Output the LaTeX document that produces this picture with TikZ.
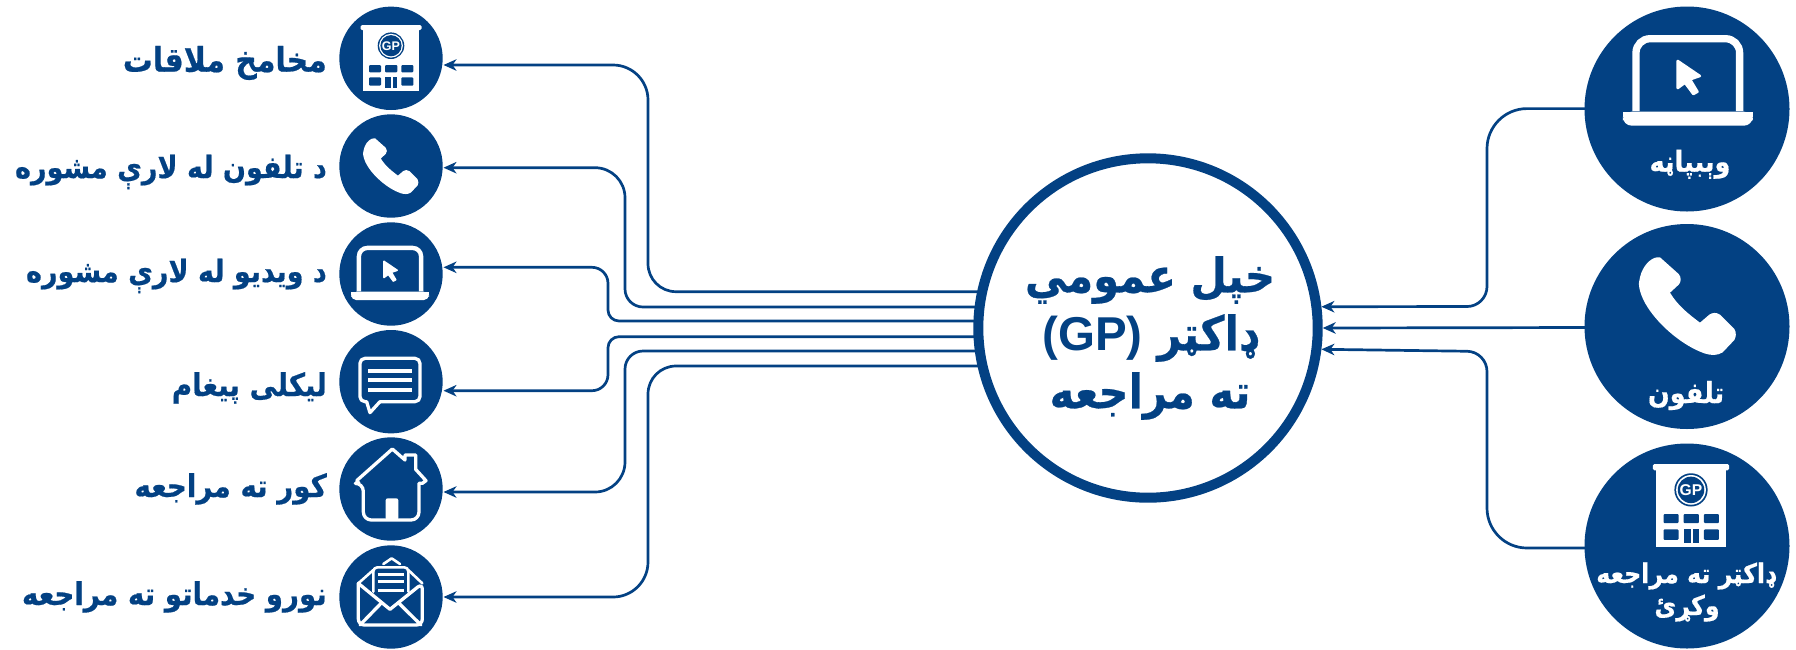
\documentclass[tikz,border=0pt]{standalone}
\usepackage{fontspec}
\usetikzlibrary{arrows.meta,calc}
\TeXXeTstate=1
\newfontfamily\arb[Script=Arabic,FakeStretch=0.88,FakeBold=0.5]{DejaVu Sans Bold}
\newfontfamily\latn{Liberation Sans Bold}
\newcommand{\rl}[1]{\beginR #1\endR}
\definecolor{navy}{HTML}{034183}
\tikzset{
  disc/.style={circle,fill=navy,draw=none,inner sep=0pt,outer sep=0pt},
  smalldisc/.style={disc,minimum size=103.4pt},
  bigdisc/.style={disc,minimum size=205pt},
  conn/.style={draw=navy,line width=2.7pt},
  arrowed/.style={conn,-{Stealth[length=13pt,width=11.5pt,inset=4pt]}},
  sidelabel/.style={anchor=base east,text=navy,inner sep=0pt,font=\arb\fontsize{31.5}{31.5}\selectfont},
  disclabel/.style={anchor=base,text=white,inner sep=0pt,font=\arb\fontsize{27}{27}\selectfont},
  iconline/.style={draw=white,line width=3.3pt,line join=round,line cap=round},
}
\newcommand{\buildingicon}[3]{%
  \begin{scope}[shift={(#1,#2)},scale=#3,transform shape]
    \fill[white,rounded corners=1.5pt] (-30.5,0) rectangle (30.5,5);
    \fill[white] (-28,4) rectangle (28,66);
    \fill[navy] (0,20.7) circle[radius=13.3];
    \fill[white] (0,20.7) circle[radius=11.9];
    \fill[navy] (0,20.7) circle[radius=10.6];
    \node[text=white,inner sep=0pt,font=\latn\fontsize{12.5}{12.5}\selectfont] at (0,20.7) {GP};
    \foreach \xa/\xb in {-22/-10,-6/6.3,10.3/22.3}
      \fill[navy,rounded corners=1pt] (\xa,40) rectangle (\xb,47.3);
    \fill[navy,rounded corners=1pt] (-22,52.3) rectangle (-10,60.7);
    \fill[navy,rounded corners=1pt] (10.3,52.3) rectangle (22.3,60.7);
    \fill[navy] (-6,52.3) rectangle (-0.3,63);
    \fill[navy] (1.7,52.3) rectangle (6.3,63);
  \end{scope}}
\newcommand{\laptopicon}[3]{%
  \begin{scope}[shift={(#1,#2)},scale=#3]
    \draw[white,line width=7.3pt*#3,rounded corners=14pt*#3] (-51.8,76) -- (-51.8,3.7) -- (51.8,3.7) -- (51.8,76);
    \fill[white,rounded corners=9pt*#3] (-65,76.7) -- (-65,90.7) -- (65,90.7) -- (65,76.7) -- cycle;
    \fill[white] (-65,76.7) rectangle (65,82);
    \draw[white,fill=white,line width=2.6pt*#3,line join=round]
      (-10.1,26) -- (12,41) -- (2.2,44.3) -- (9.6,56.7) -- (5.6,59) -- (-2.8,47.7) -- (-10.1,53) -- cycle;
  \end{scope}}
\newcommand{\phoneicon}[3]{%
  \fill[white,shift={(#1,#2)},scale=#3]
    (62,0) -- (118,50) .. controls (126,58) and (126,75) .. (118,82) -- (92,106)
    .. controls (115,145) and (150,172) .. (182,196) -- (210,172)
    .. controls (220,165) and (232,165) .. (242,172) -- (285,215)
    .. controls (292,225) and (290,240) .. (285,248) -- (250,285)
    .. controls (235,295) and (215,295) .. (195,288)
    .. controls (130,265) and (60,205) .. (25,150)
    .. controls (5,120) and (-5,85) .. (0,70)
    .. controls (5,35) and (25,10) .. (45,2)
    .. controls (50,0) and (57,-1) .. (62,0) -- cycle;}
\begin{document}
\begin{tikzpicture}[x=1pt,y=-1pt]
\useasboundingbox (0,0) rectangle (1796,649);
% hub and discs
\node[circle,draw=navy,fill=white,line width=10pt,minimum size=339.4pt,inner sep=0pt] (hub) at (1148,328) {};
\node[text=navy,align=center,inner sep=0pt,font=\arb\fontsize{47.5}{58}\selectfont] (hubtext) at (1150,338)
  {\rl{خپل عمومي}\\\rl{ډاکټر \beginL{\latn (GP)}\endL}\\\rl{ته مراجعه}};
\node[smalldisc] (l1) at (391,58.3) {};
\node[smalldisc] (l2) at (391,166) {};
\node[smalldisc] (l3) at (391,274) {};
\node[smalldisc] (l4) at (391,381.7) {};
\node[smalldisc] (l5) at (391,489) {};
\node[smalldisc] (l6) at (391,597) {};
\node[bigdisc] (r1) at (1687,109) {};
\node[bigdisc] (r2) at (1687,326.5) {};
\node[bigdisc] (r3) at (1687,546) {};
% free ends of connectors
\coordinate (s1) at ($(hub.center)+(-170,-36.3)$);
\coordinate (s2) at ($(hub.center)+(-170,-21)$);
\coordinate (s3) at ($(hub.center)+(-170,-7)$);
\coordinate (s4) at ($(hub.center)+(-170,8.7)$);
\coordinate (s5) at ($(hub.center)+(-170,23)$);
\coordinate (s6) at ($(hub.center)+(-170,38)$);
\coordinate (t1) at ($(l1.center)+(52.5,6.7)$);
\coordinate (t2) at ($(l2.center)+(52.5,1.7)$);
\coordinate (t3) at ($(l3.center)+(52.5,-6.7)$);
\coordinate (t4) at ($(l4.center)+(52.5,9)$);
\coordinate (t5) at ($(l5.center)+(52.5,3)$);
\coordinate (t6) at ($(l6.center)+(52.5,0)$);
\coordinate (h1) at (hub.7.6);
\coordinate (h2) at (hub.0.4);
\coordinate (h3) at (hub.-7.5);
\coordinate (e1) at ($(r1.center)+(-100,-0.4)$);
\coordinate (e2) at ($(r2.center)+(-100,1)$);
\coordinate (e3) at ($(r3.center)+(-100,2)$);
% connectors: hub to left discs
\draw[arrowed] (s1) [rounded corners=28pt] -- (648,291.7) [rounded corners=35pt] -- (648,65) [sharp corners] -- (t1);
\draw[arrowed] (s2) [rounded corners=18pt] -- (625,307) [rounded corners=30pt] -- (625,167.7) [sharp corners] -- (t2);
\draw[arrowed] (s3) [rounded corners=11pt] -- (608,321) [rounded corners=16pt] -- (608,267.3) [sharp corners] -- (t3);
\draw[arrowed] (s4) [rounded corners=11pt] -- (608,336.7) [rounded corners=16pt] -- (608,390.7) [sharp corners] -- (t4);
\draw[arrowed] (s5) [rounded corners=18pt] -- (625,351) [rounded corners=30pt] -- (625,492) [sharp corners] -- (t5);
\draw[arrowed] (s6) [rounded corners=28pt] -- (648,366) [rounded corners=35pt] -- (648,597) [sharp corners] -- (t6);
% connectors: right discs to hub
\draw[arrowed] (e1) [rounded corners=40pt] -- (1487,108.6) [rounded corners=20pt] -- (1487,306.5) [sharp corners] -- (h1);
\draw[arrowed] (e2) -- (h2);
\draw[arrowed] (e3) [rounded corners=40pt] -- (1487,548) [rounded corners=20pt] -- (1487,351.5) [sharp corners] -- (h3);
% left labels
\node[sidelabel,font=\arb\fontsize{34}{34}\selectfont] (a1) at (327,71.7) {\rl{مخامخ ملاقات}};
\node[sidelabel,font=\arb\fontsize{30.7}{30.7}\selectfont] (a2) at (327,178) {\rl{د تلفون له لارې مشوره}};
\node[sidelabel,font=\arb\fontsize{30.7}{30.7}\selectfont] (a3) at (327,282) {\rl{د ویدیو له لارې مشوره}};
\node[sidelabel] (a4) at (327,396) {\rl{لیکلی پیغام}};
\node[sidelabel] (a5) at (327,497) {\rl{کور ته مراجعه}};
\node[sidelabel] (a6) at (327,605) {\rl{نورو خدماتو ته مراجعه}};
% disc labels
\node[disclabel,font=\arb\fontsize{29}{29}\selectfont] (b1) at (1690,171.7) {\rl{وېبپاڼه}};
\node[disclabel,font=\arb\fontsize{29}{29}\selectfont] (b2) at (1686,403) {\rl{تلفون}};
\node[disclabel] (b3) at (1686,583) {\rl{ډاکټر ته مراجعه}};
\node[disclabel] (b4) at (1687,615) {\rl{وکړئ}};
% icons
\buildingicon{391}{25}{1}
\buildingicon{1691}{464}{1.25}
\laptopicon{1687.8}{35}{1}
\laptopicon{390}{245.7}{0.6}
\phoneicon{1639.33}{257.33}{0.3333}
\phoneicon{363.3}{138.3}{0.1903}
% message
\begin{scope}[shift={(0,320)},scale=0.3333]
  \draw[iconline,rounded corners=5pt] (1100,245) -- (1080,245) -- (1080,115) -- (1260,115) -- (1260,245) -- (1140,245);
  \draw[iconline] (1100,245) -- (1110,278) -- (1140,245);
  \draw[iconline,line width=3.7pt,line cap=butt] (1105,152) -- (1237,152) (1105,180) -- (1237,180) (1105,210) -- (1237,210);
\end{scope}
% house
\begin{scope}[shift={(345,440)},scale=0.3333]
  \draw[iconline] (142,27) -- (180,60) -- (180,45) -- (212,45) -- (212,88) -- (243,122) -- (232,130) -- (222,130)
    [rounded corners=8pt] -- (222,240) -- (55,240) -- (55,130) [sharp corners] -- (42,130) -- (35,122) -- cycle;
  \fill[white,rounded corners=2pt] (122,240) -- (122,175) -- (160,175) -- (160,240) -- cycle;
\end{scope}
% envelope
\begin{scope}[shift={(345,550)},scale=0.3333]
  \draw[iconline] (40,100) [rounded corners=6pt] -- (40,225) -- (232,225) -- (232,100) [sharp corners] -- (135,178) -- cycle;
  \draw[iconline] (45,225) -- (110,158) (228,225) -- (160,158);
  \draw[iconline,line width=2.6pt] (40,100) -- (85,60) (190,60) -- (232,100);
  \draw[iconline,line width=2.6pt] (115,42) -- (140,25) -- (165,42);
  \draw[iconline,line width=2.6pt,rounded corners=4pt] (85,125) -- (85,52) -- (190,52) -- (190,125);
  \draw[iconline,line width=3pt,line cap=butt] (98,72) -- (178,72) (98,95) -- (178,95) (98,120) -- (178,120);
\end{scope}
\end{tikzpicture}
\end{document}
